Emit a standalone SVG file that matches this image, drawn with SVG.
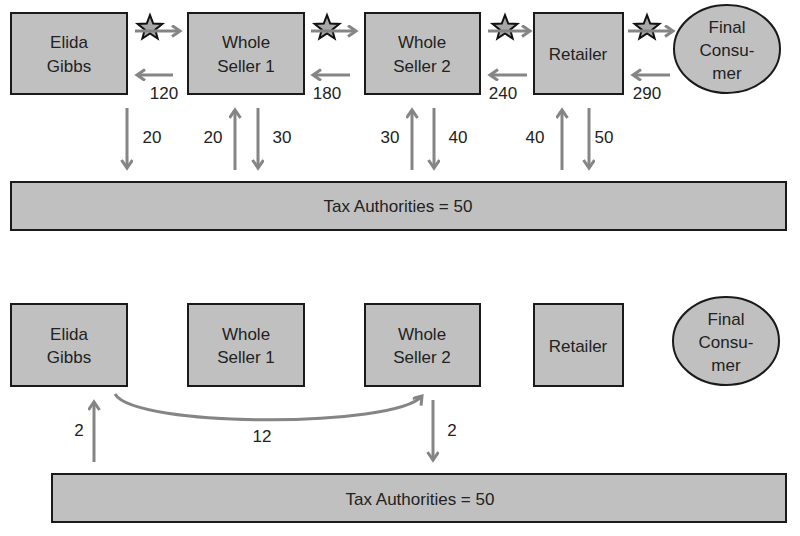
<svg xmlns="http://www.w3.org/2000/svg" width="800" height="536" viewBox="0 0 800 536">
<style>
.box{fill:#c0c0c0;stroke:#1a1a1a;stroke-width:2}
.t{font-family:"Liberation Sans",Arial,sans-serif;font-size:17px;fill:#222;text-anchor:middle}
.a{stroke:#858585;stroke-width:3;fill:none;marker-end:url(#ah)}
.star{fill:#a8a8a8;stroke:#111;stroke-width:2}
</style>
<defs>
<marker id="ah" markerUnits="userSpaceOnUse" markerWidth="14" markerHeight="14" refX="9" refY="6" orient="auto">
<path d="M1,0.5 L9,6 L1,11.5" fill="none" stroke="#858585" stroke-width="3"/>
</marker>
<path id="st" d="M0,-13 L3.23,-4.45 L12.36,-4.02 L5.23,1.7 L7.64,10.52 L0,5.5 L-7.64,10.52 L-5.23,1.7 L-12.36,-4.02 L-3.23,-4.45 Z"/>
</defs>
<rect width="800" height="536" fill="#fff"/>

<g id="top-elida"><rect class="box" x="11" y="13" width="116" height="81"/><text class="t" x="69" y="48">Elida</text><text class="t" x="69" y="72">Gibbs</text></g>
<g id="top-ws1"><rect class="box" x="188" y="13" width="116" height="81"/><text class="t" x="246" y="48">Whole</text><text class="t" x="246" y="72">Seller 1</text></g>
<g id="top-ws2"><rect class="box" x="365" y="13" width="115" height="81"/><text class="t" x="422" y="48">Whole</text><text class="t" x="422" y="72">Seller 2</text></g>
<g id="top-retailer"><rect class="box" x="534" y="13" width="89" height="81"/><text class="t" x="578" y="60">Retailer</text></g>
<g id="top-consumer"><ellipse class="box" cx="727" cy="49" rx="53" ry="44"/><text class="t" x="727" y="33">Final</text><text class="t" x="727" y="56">Consu-</text><text class="t" x="727" y="79">mer</text></g>
<g id="top-tax"><rect class="box" x="11" y="182" width="775" height="48"/><text class="t" x="398" y="212">Tax Authorities = 50</text></g>

<g id="bot-elida"><rect class="box" x="11" y="304" width="116" height="82"/><text class="t" x="69" y="340">Elida</text><text class="t" x="69" y="363">Gibbs</text></g>
<g id="bot-ws1"><rect class="box" x="188" y="304" width="116" height="82"/><text class="t" x="246" y="340">Whole</text><text class="t" x="246" y="363">Seller 1</text></g>
<g id="bot-ws2"><rect class="box" x="365" y="304" width="115" height="82"/><text class="t" x="422" y="340">Whole</text><text class="t" x="422" y="363">Seller 2</text></g>
<g id="bot-retailer"><rect class="box" x="534" y="304" width="89" height="82"/><text class="t" x="578" y="352">Retailer</text></g>
<g id="bot-consumer"><ellipse class="box" cx="726" cy="341" rx="53" ry="44"/><text class="t" x="726" y="325">Final</text><text class="t" x="726" y="348">Consu-</text><text class="t" x="726" y="371">mer</text></g>
<g id="bot-tax"><rect class="box" x="52" y="474" width="734" height="48"/><text class="t" x="420" y="505">Tax Authorities = 50</text></g>

<g id="connectors">
<use href="#st" class="star" x="150" y="28"/>
<use href="#st" class="star" x="327" y="28"/>
<use href="#st" class="star" x="505" y="28"/>
<use href="#st" class="star" x="647" y="28"/>
<line class="a" x1="135" y1="31" x2="180" y2="31"/>
<line class="a" x1="311" y1="31" x2="356" y2="31"/>
<line class="a" x1="488" y1="31" x2="530" y2="31"/>
<line class="a" x1="628" y1="31" x2="673" y2="31"/>
<line class="a" x1="173" y1="75" x2="137" y2="75"/>
<line class="a" x1="350" y1="75" x2="313" y2="75"/>
<line class="a" x1="527" y1="75" x2="490" y2="75"/>
<line class="a" x1="670" y1="75" x2="633" y2="75"/>
<text class="t" x="164" y="99">120</text>
<text class="t" x="327" y="99">180</text>
<text class="t" x="503" y="99">240</text>
<text class="t" x="647" y="99">290</text>

<line class="a" x1="127" y1="108" x2="127" y2="168"/>
<line class="a" x1="235" y1="170" x2="235" y2="110"/>
<line class="a" x1="258" y1="108" x2="258" y2="168"/>
<line class="a" x1="412" y1="170" x2="412" y2="110"/>
<line class="a" x1="434" y1="108" x2="434" y2="168"/>
<line class="a" x1="562" y1="170" x2="562" y2="110"/>
<line class="a" x1="589" y1="108" x2="589" y2="168"/>
<text class="t" x="152" y="143">20</text>
<text class="t" x="213" y="143">20</text>
<text class="t" x="282" y="143">30</text>
<text class="t" x="390" y="143">30</text>
<text class="t" x="458" y="143">40</text>
<text class="t" x="535" y="143">40</text>
<text class="t" x="604" y="143">50</text>

<path class="a" d="M115,394 C135,428 395,428 422,396"/>
<line class="a" x1="94" y1="462" x2="94" y2="402"/>
<line class="a" x1="433" y1="400" x2="433" y2="460"/>
<text class="t" x="79" y="436">2</text>
<text class="t" x="262" y="442">12</text>
<text class="t" x="452" y="436">2</text>
</g>
</svg>
